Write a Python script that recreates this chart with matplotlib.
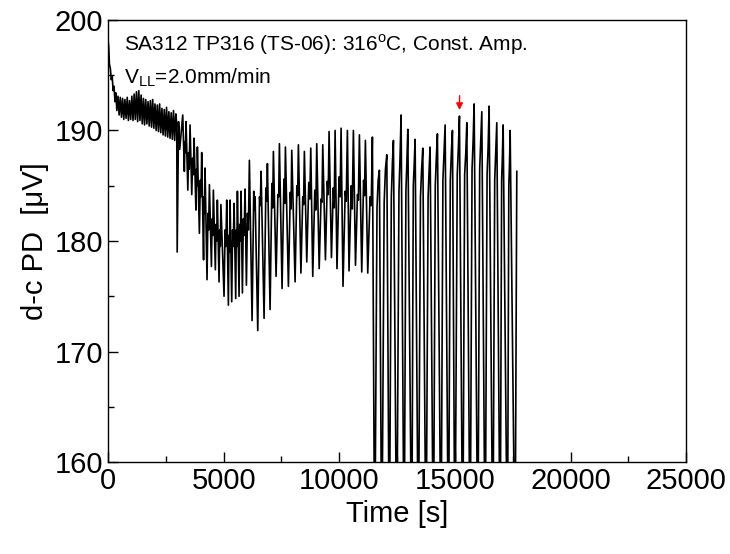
import numpy as np
import matplotlib
matplotlib.use("Agg")
import matplotlib.pyplot as plt
from matplotlib.ticker import MultipleLocator

plt.rcParams['font.family'] = ['Liberation Sans', 'DejaVu Sans']
plt.rcParams['mathtext.fontset'] = 'custom'
plt.rcParams['mathtext.rm'] = 'Liberation Sans'

# noisy start of the record
early_t = [0, 30, 60, 100, 140, 180, 220, 260, 300, 340, 380, 430, 480, 530, 580, 630,
           680, 730, 780, 830, 880, 930, 980, 1030, 1080, 1130, 1180, 1230, 1280, 1330,
           1380, 1430, 1480, 1530, 1580, 1630, 1680, 1730, 1780, 1830, 1880, 1930, 1980,
           2030, 2080, 2130, 2180, 2230, 2280, 2330, 2380, 2430, 2480, 2530, 2580, 2630,
           2680, 2730, 2780, 2830, 2880, 2930, 2970, 2990, 3050, 3100]
early_v = [198.2, 197.5, 196.0, 195.6, 194.6, 194.9, 193.6, 194.0, 192.6, 193.4, 191.8,
           193.1, 191.4, 193.0, 191.2, 192.9, 191.0, 192.8, 191.1, 193.0, 190.9, 192.7,
           191.0, 193.1, 190.9, 193.3, 191.0, 193.5, 190.8, 193.6, 190.9, 193.2, 190.6,
           192.9, 190.5, 192.8, 190.6, 192.6, 190.4, 192.7, 190.3, 192.8, 190.2, 192.4,
           190.0, 192.3, 189.9, 192.4, 189.8, 192.0, 189.6, 191.9, 189.5, 192.1, 189.4,
           191.7, 189.3, 191.6, 189.2, 191.8, 189.1, 191.5, 190.6, 179.0, 190.8, 188.3]

# oscillation maxima
peak_t = [3230, 3373, 3546, 3720, 3863, 4050, 4195, 4383, 4555, 4727, 4880, 5132, 5276,
          5450, 5594, 5752, 5925, 6112, 6358, 6617, 6891, 7150, 7410, 7670, 7944, 8231,
          8490, 8766, 9025, 9285, 9558, 9818, 10077, 10350, 10609, 10869, 11128, 11431,
          11734, 12054, 12340, 12672, 12962, 13278, 13610, 13927, 14243, 14576, 14892,
          15195, 15514, 15830, 16162, 16478, 16810, 17084, 17387, 17675]
peak_v = [191.4, 190.8, 190.5, 189.3, 188.5, 188.0, 186.6, 185.1, 184.6, 183.7, 183.3,
          183.7, 183.7, 183.4, 184.5, 184.5, 184.7, 187.3, 184.0, 186.3, 187.0, 188.1,
          188.8, 188.5, 188.2, 188.7, 188.1, 188.4, 188.8, 188.7, 189.9, 190.0, 190.2,
          190.0, 190.0, 189.6, 189.1, 189.4,
          186.4, 187.8, 189.1, 191.4, 190.1, 189.2, 188.4, 188.5, 189.7, 190.5, 190.0,
          191.3, 190.7, 192.4, 191.7, 192.2, 190.7, 190.5, 190.0, 186.3]

# oscillation minima (after 11500 s they run off the bottom of the axis)
trough_t = [3300, 3450, 3620, 3800, 3950, 4130, 4280, 4470, 4640, 4800, 5016, 5204, 5348,
            5521, 5665, 5810, 5983, 6228, 6474, 6747, 7006, 7266, 7525, 7799, 8088, 8340,
            8593, 8852, 9130, 9400, 9660, 9900, 10160, 10420, 10700, 10970, 11230,
            11530, 11836, 12163, 12483, 12802, 13131, 13418, 13750, 14069, 14397, 14720,
            15000, 15337, 15656, 15990, 16307, 16640, 16955, 17270, 17600]
trough_v = [186.3, 184.6, 184.2, 182.8, 180.7, 178.3, 176.5, 177.7, 177.4, 176.3, 175.0,
            174.2, 174.5, 174.8, 175.0, 175.3, 176.0, 172.8, 171.9, 173.0, 173.8, 176.8,
            175.7, 175.9, 176.3, 177.1, 178.1, 176.8, 177.5, 178.3, 178.5, 177.5, 175.9,
            177.3, 177.8, 177.2, 177.1,
            150, 150, 150, 150, 150, 150, 150, 150, 150, 150, 150, 150, 150, 150, 150,
            150, 150, 150, 150, 150]

# wiggles on the rising flank of each cycle (the grey middle band)
shoulder_t = [3325, 3345, 3485, 3510, 3660, 3690, 3825, 3845, 3990, 4020, 4155, 4175,
              4320, 4350, 4500, 4525, 4670, 4700, 4830, 4855, 5060, 5095, 5230, 5250,
              5385, 5415, 5545, 5570, 5695, 5725, 5850, 5885, 6030, 6070,
              6300, 6330, 6550, 6585, 6825, 6860, 7085, 7120, 7345, 7380, 7605, 7640,
              7880, 7915, 8165, 8200, 8420, 8455, 8680, 8725, 8940, 8985, 9210, 9250,
              9480, 9520, 9740, 9780, 9990, 10035, 10255, 10300, 10515, 10560, 10785,
              10825, 11050, 11090, 11330, 11380]
shoulder_v = [189.0, 188.0, 188.0, 186.5, 187.5, 186.0, 186.5, 185.0, 185.5, 184.0,
              184.0, 182.5, 182.5, 181.0, 182.0, 180.5, 181.5, 180.0, 181.0, 179.5,
              181.0, 179.5, 180.5, 179.0, 181.0, 179.5, 181.0, 179.5, 181.5, 180.0,
              182.0, 180.5, 182.5, 181.0,
              184.5, 182.8, 184.0, 183.2, 184.8, 183.6, 185.2, 183.0, 184.2, 184.0,
              185.6, 183.4, 184.4, 182.9, 185.0, 184.1, 184.0, 183.3, 185.3, 183.8,
              184.6, 182.8, 183.8, 183.5, 185.4, 184.2, 184.8, 183.0, 185.8, 184.0,
              184.5, 183.6, 185.0, 182.9, 184.2, 183.7, 185.5, 184.1, 184.0, 183.2]

# level the signal comes back to after each deep drop, and the hump after it
rebound_t = [11630, 11940, 12250, 12580, 12880, 13200, 13510, 13840, 14150, 14480, 14800,
             15100, 15420, 15740, 16070, 16390, 16720, 17020, 17330]
rebound_v = [183.0, 183.5, 184.0, 184.5, 184.5, 185.0, 184.0, 184.0, 185.0, 185.5, 185.5,
             186.0, 186.0, 186.5, 186.5, 186.0, 185.5, 185.5, 185.0]
hump_t = [11680, 11995, 12295, 12625, 12920, 13240, 13560, 13885, 14195, 14530, 14845,
          15150, 15470, 15785, 16115, 16435, 16765, 17050, 17360]
hump_v = [185.5, 186.5, 187.0, 187.5, 187.0, 187.0, 186.5, 186.5, 187.5, 188.0, 188.0,
          188.5, 188.0, 189.0, 189.0, 188.5, 188.0, 187.5, 187.0]

t = np.concatenate([early_t, peak_t, trough_t, shoulder_t, rebound_t, hump_t]).astype(float)
v = np.concatenate([early_v, peak_v, trough_v, shoulder_v, rebound_v, hump_v]).astype(float)
order = np.argsort(t, kind="stable")
t, v = t[order], v[order]

fig = plt.figure(figsize=(7.3, 5.54), dpi=100)
ax = fig.add_axes([0.148, 0.166, 0.792, 0.798])

ax.plot(t, v, color="black", lw=1.2)

ax.set_xlim(0, 25000)
ax.set_ylim(160, 200)
ax.xaxis.set_major_locator(MultipleLocator(5000))
ax.xaxis.set_minor_locator(MultipleLocator(2500))
ax.yaxis.set_major_locator(MultipleLocator(10))
ax.yaxis.set_minor_locator(MultipleLocator(5))
ax.tick_params(which="both", direction="in", top=False, right=False, labelsize=21, width=1)
ax.tick_params(which="major", length=7)
ax.tick_params(which="minor", length=4)
for s in ax.spines.values():
    s.set_linewidth(1.0)

ax.set_xlabel("Time [s]", fontsize=21)
ax.set_ylabel("d-c PD  [μV]", fontsize=21)

ax.text(0.028, 0.972, r"SA312 TP316 (TS-06): 316$^{\mathrm{o}}$C, Const. Amp.",
        transform=ax.transAxes, fontsize=15, va="top", ha="left")
ax.text(0.028, 0.895, r"V$_{\mathrm{LL}}$=2.0mm/min",
        transform=ax.transAxes, fontsize=15, va="top", ha="left")

ax.annotate("", xy=(15200, 191.6), xytext=(15200, 193.4),
            arrowprops=dict(arrowstyle="-|>", color="red", lw=1, mutation_scale=10))

fig.savefig("out.png", dpi=100)
